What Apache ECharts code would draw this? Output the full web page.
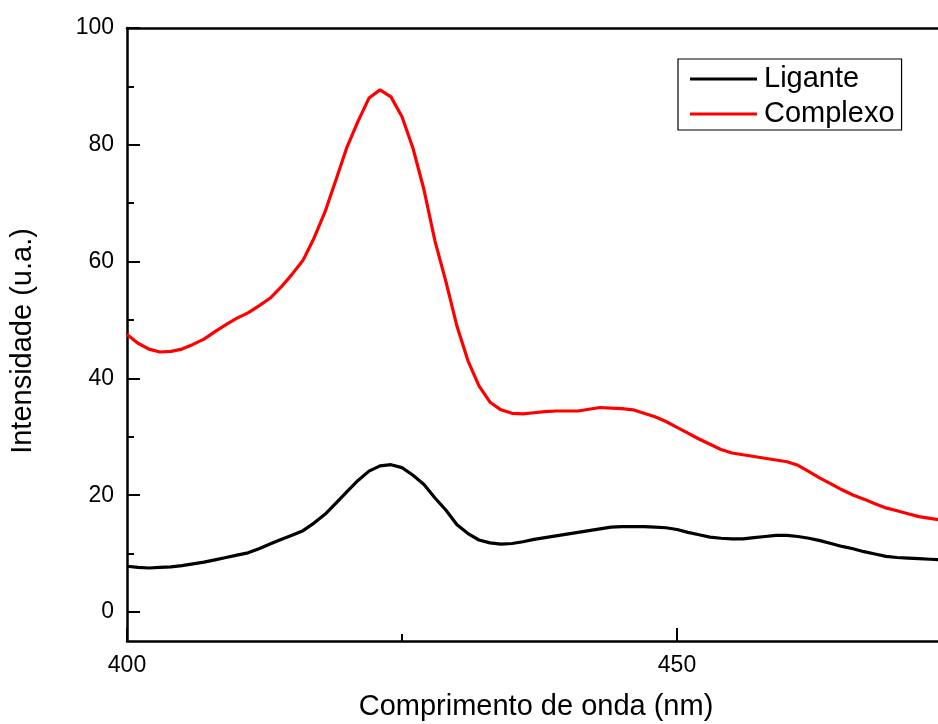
<!DOCTYPE html>
<html><head><meta charset="utf-8">
<script src="https://cdn.jsdelivr.net/npm/echarts@6/dist/echarts.min.js"></script>
<style>html,body{margin:0;padding:0;background:#fff}#c{width:938px;height:724px}</style>
</head><body><div id="c"></div>
<script>
const wavelength = [400,401,402,403,404,405,406,407,408,409,410,411,412,413,414,415,416,417,418,419,
  420,421,422,423,424,425,426,427,428,429,430,431,432,433,434,435,436,437,438,439,
  440,441,442,443,444,445,446,447,448,449,450,451,452,453,454,455,456,457,458,459,
  460,461,462,463,464,465,466,467,468,469,470,471,472,473,474];
const ligante = [7.8,7.6,7.5,7.6,7.7,7.9,8.2,8.5,8.9,9.3,9.7,10.1,10.8,11.6,12.4,13.1,13.9,15.2,16.7,18.6,
  20.6,22.5,24.1,25.0,25.2,24.7,23.4,21.8,19.5,17.4,14.9,13.4,12.3,11.8,11.6,11.7,12.0,12.4,12.7,13.0,
  13.3,13.6,13.9,14.2,14.5,14.6,14.6,14.6,14.5,14.4,14.1,13.6,13.2,12.8,12.6,12.5,12.5,12.7,12.9,13.1,
  13.1,12.9,12.6,12.2,11.7,11.2,10.8,10.3,9.9,9.5,9.3,9.2,9.1,9.0,8.9];
const complexo = [47.5,46.0,45.0,44.5,44.6,45.0,45.8,46.7,48.0,49.2,50.3,51.2,52.4,53.7,55.6,57.8,60.2,64.0,68.5,74.0,
  79.6,84.0,88.0,89.4,88.2,84.8,79.4,72.3,63.5,56.5,48.9,43.0,38.7,35.9,34.6,34.0,33.9,34.1,34.3,34.4,
  34.4,34.4,34.7,35.0,34.9,34.8,34.6,34.0,33.4,32.6,31.6,30.6,29.6,28.7,27.8,27.2,26.9,26.6,26.3,26.0,
  25.7,25.1,24.0,22.9,21.9,20.9,20.0,19.3,18.5,17.8,17.3,16.8,16.3,16.0,15.7];
const seriesNames = ['Ligante','Complexo'];
const xTickLabels = [400,450];
const yTickLabels = [0,20,40,60,80,100];
const xTitle = 'Comprimento de onda (nm)';
const yTitle = 'Intensidade (u.a.)';

const FONT = "'Liberation Sans', Arial, sans-serif";
const chart = echarts.init(document.getElementById('c'), null, {renderer:'canvas'});
const pairs = arr => wavelength.map((w,i)=>[w,arr[i]]);

chart.setOption({
  backgroundColor:'#fff',
  animation:false,
  grid:[
    {left:127, top:28, width:1100, height:613, containLabel:false, outerBoundsMode:'none'},
    {left:127, top:28, width:1100, height:584, containLabel:false, outerBoundsMode:'none'}
  ],
  xAxis:[
    {gridIndex:0, type:'value', min:400, max:500, interval:50, position:'bottom',
     axisLine:{show:true, onZero:false, lineStyle:{color:'#000', width:2.5}},
     axisTick:{show:true, inside:true, length:13, lineStyle:{color:'#000', width:2}},
     minorTick:{show:true, splitNumber:2, length:7, lineStyle:{color:'#000', width:2}},
     splitLine:{show:false},
     axisLabel:{margin:13, fontSize:23, color:'#000', fontFamily:FONT,
       formatter:v => xTickLabels.includes(v) ? String(v) : ''}},
    {gridIndex:0, type:'value', min:400, max:500, position:'top',
     axisLine:{show:true, onZero:false, lineStyle:{color:'#000', width:2.5}},
     axisTick:{show:false}, axisLabel:{show:false}, splitLine:{show:false}},
    {gridIndex:1, type:'value', min:400, max:500, show:false}
  ],
  yAxis:[
    {gridIndex:0, type:'value', min:-5, max:100,
     axisLine:{show:true, onZero:false, lineStyle:{color:'#000', width:2.5}},
     axisTick:{show:false}, axisLabel:{show:false}, splitLine:{show:false}},
    {gridIndex:1, type:'value', min:0, max:100, interval:20,
     axisLine:{show:false},
     axisTick:{show:true, inside:true, length:13, lineStyle:{color:'#000', width:2}},
     minorTick:{show:true, splitNumber:2, length:7, lineStyle:{color:'#000', width:2}},
     splitLine:{show:false},
     axisLabel:{margin:13, fontSize:23, color:'#000', fontFamily:FONT,
       formatter:v => yTickLabels.includes(v) ? String(v) : ''}}
  ],
  legend:{
    orient:'vertical', left:678, top:59,
    data:seriesNames,
    icon:'rect', itemWidth:67, itemHeight:3, itemGap:5,
    padding:[5,7,1,12],
    borderColor:'#000', borderWidth:1.2,
    textStyle:{fontSize:29, color:'#000', fontFamily:FONT, lineHeight:30, padding:[0,0,0,2]}
  },
  graphic:[
    {type:'text', x:536, y:707, style:{text:xTitle, font:"29px 'Liberation Sans', Arial, sans-serif", fill:'#000', textAlign:'center', textVerticalAlign:'middle'}},
    {type:'text', x:23, y:341, rotation:Math.PI/2, style:{text:yTitle, font:"29px 'Liberation Sans', Arial, sans-serif", fill:'#000', textAlign:'center', textVerticalAlign:'middle'}}
  ],
  series:[
    {name:seriesNames[0], type:'line', xAxisIndex:0, yAxisIndex:0, data:pairs(ligante),
     symbol:'none', lineStyle:{color:'#000', width:3.2}, itemStyle:{color:'#000'}, clip:true},
    {name:seriesNames[1], type:'line', xAxisIndex:0, yAxisIndex:0, data:pairs(complexo),
     symbol:'none', lineStyle:{color:'#ff0000', width:3.2}, itemStyle:{color:'#ff0000'}, clip:true}
  ]
});
</script></body></html>
